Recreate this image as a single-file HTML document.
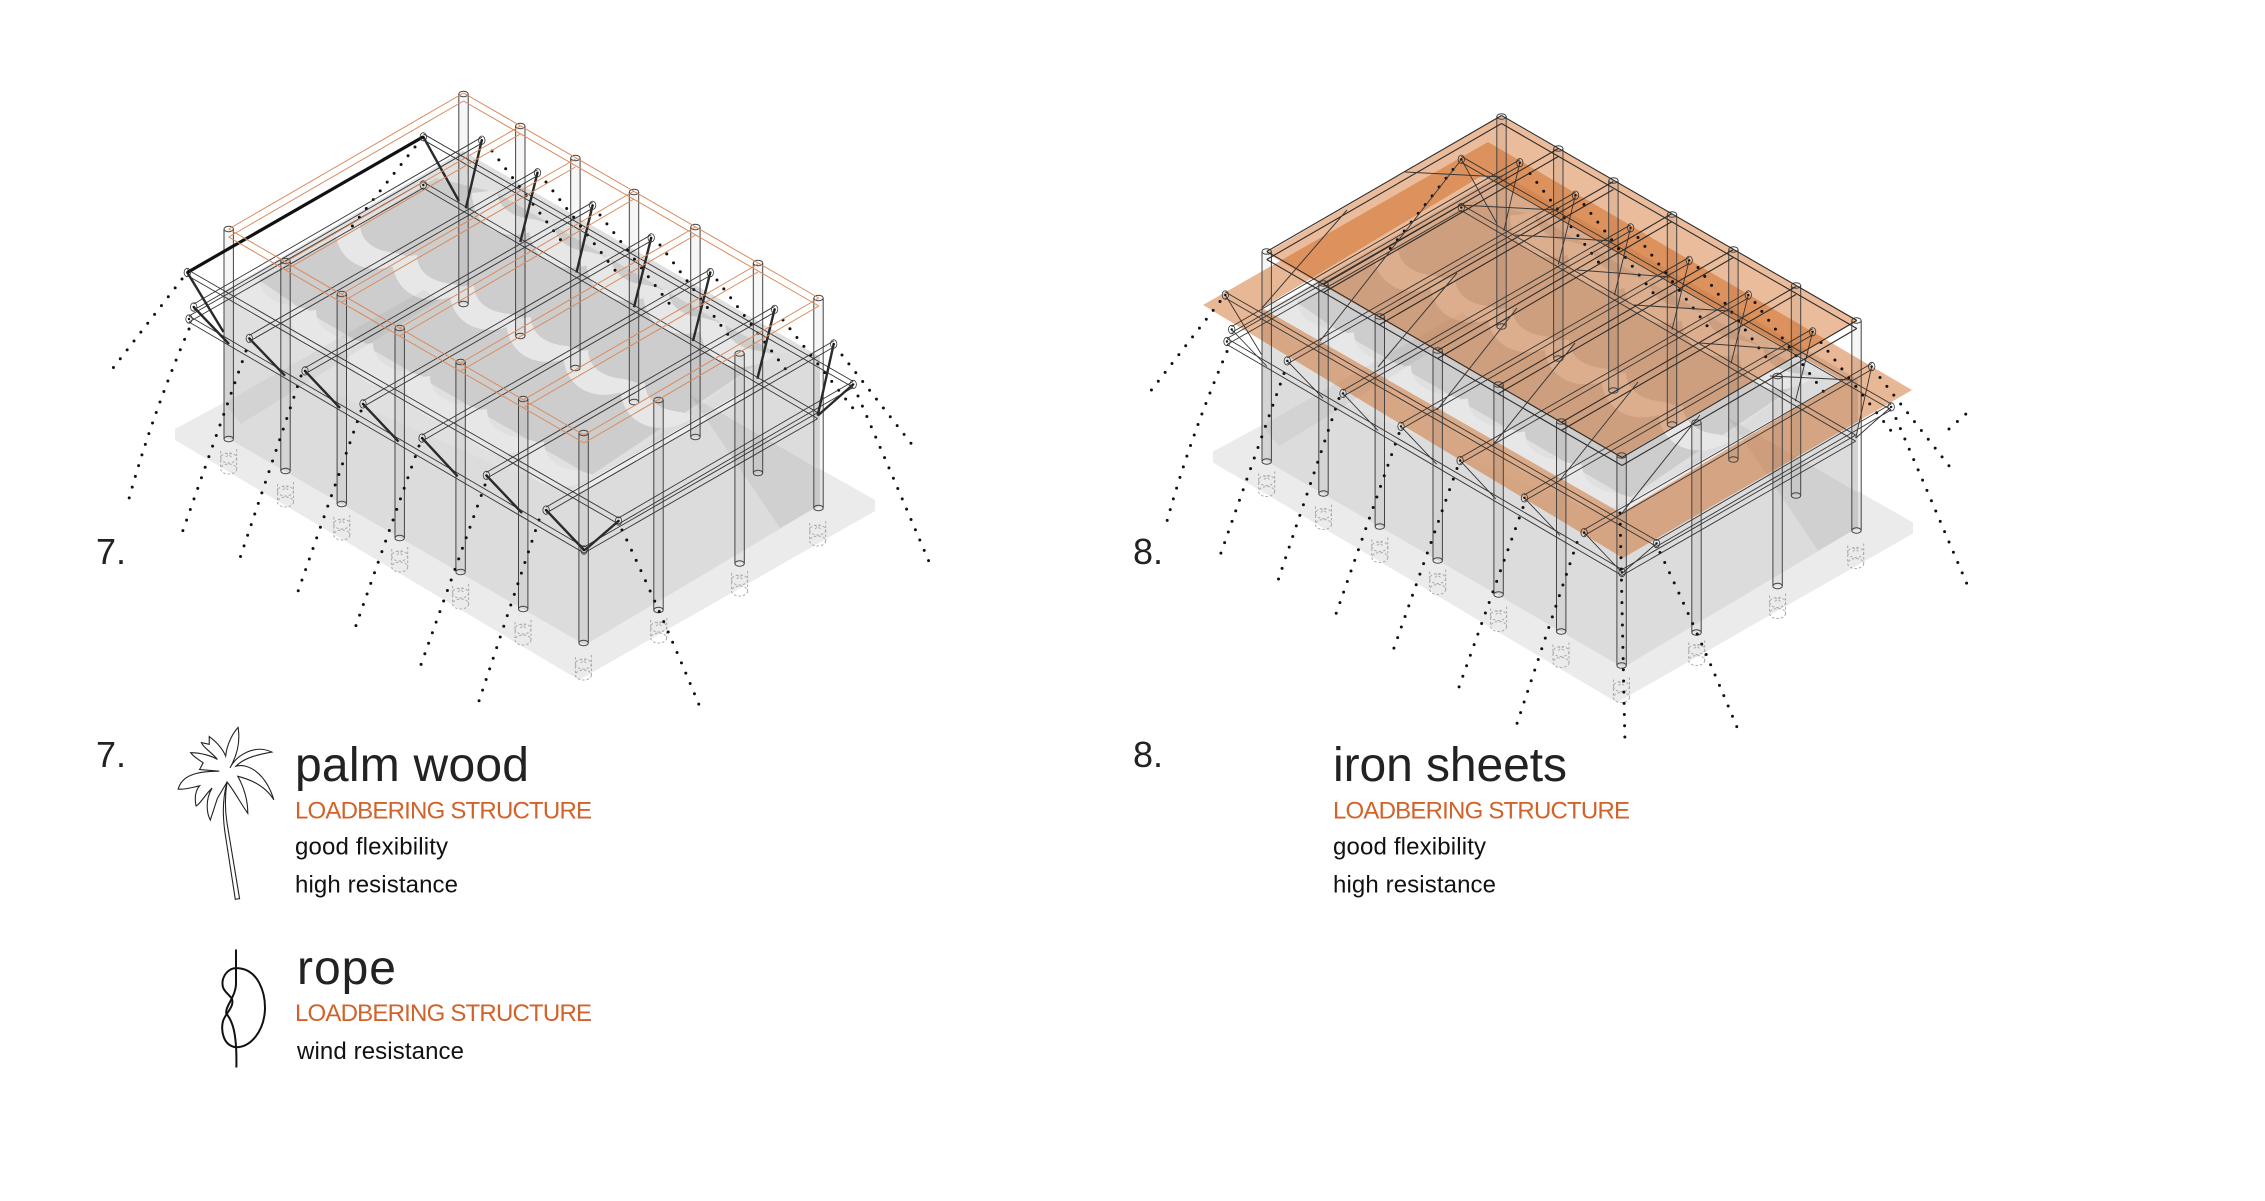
<!DOCTYPE html>
<html><head><meta charset="utf-8"><style>
html,body{margin:0;padding:0;background:#fff}
svg{display:block}
text{font-family:"Liberation Sans",sans-serif}
.o{fill:#d2622a;font-size:24px}
.b{fill:#222;font-size:48px}
.s{fill:#111;font-size:24px}
.n{fill:#222;font-size:36px}
</style></head><body>
<svg width="2265" height="1201" viewBox="0 0 2265 1201" xmlns="http://www.w3.org/2000/svg">
<defs>
<path id="cr" d="M0,-3 C0,12 12,24 36,26 L50,30 C22,52 -24,44 -25,0 Z" fill="#e7e7e7"/>
<g id="base">
<polygon points="175,429 175,440 579,680 875,511 875,500 470,270" fill="#ebebeb"/>
<polygon points="463,151 820,357 820,505 585,645 224,436 224,291" fill="#dcdcdc"/>
<polygon points="463,151 820,357 775,352 583,490 500,467 230,347 224,340 224,291" fill="#e0e0e0"/>
<polygon points="259,280 345,232 360,224 436,178 497,193 554,226 611,259 668,292 725,325 775,352 590,476 582,471 297,306" fill="#cdcdcd"/>
<use href="#cr" x="259" y="280"/><use href="#cr" x="316" y="313"/><use href="#cr" x="373" y="346"/><use href="#cr" x="430" y="379"/><use href="#cr" x="487" y="412"/><use href="#cr" x="544" y="445"/>
<use href="#cr" x="360" y="227"/><use href="#cr" x="417" y="258"/><use href="#cr" x="474" y="288"/><use href="#cr" x="531" y="320"/><use href="#cr" x="588" y="353"/><use href="#cr" x="645" y="386"/>
<use href="#cr" x="497" y="193"/><use href="#cr" x="554" y="226"/><use href="#cr" x="611" y="259"/><use href="#cr" x="668" y="292"/><use href="#cr" x="725" y="325"/>
<line x1="575" y1="492" x2="745" y2="394" stroke="#ececec" stroke-width="6"/>
<polygon points="224,403 424,290 440,300 241,424" fill="#000" opacity=".04"/>
<polygon points="690,395 820,470 820,505 780,528" fill="#000" opacity=".05"/>
</g>
<g id="c" fill="none" stroke="#444" stroke-width="1">
<rect x="-4.7" y="0" width="9.4" height="210" fill="#000" fill-opacity=".035" stroke="none"/>
<path d="M-4.7,0 V210 M4.7,0 V210"/>
<ellipse cx="0" cy="0" rx="4.7" ry="2.8"/><ellipse cx="0" cy="210" rx="4.7" ry="2.8"/>
</g>
<g id="cols">
<use href="#c" x="463.5" y="94"/><use href="#c" x="520.3" y="126"/><use href="#c" x="575.4" y="158"/><use href="#c" x="634" y="192"/><use href="#c" x="695.4" y="227"/><use href="#c" x="758" y="263"/><use href="#c" x="818.5" y="298"/>
<use href="#c" x="228.7" y="229"/><use href="#c" x="285.5" y="261"/><use href="#c" x="341.8" y="294"/><use href="#c" x="399.7" y="328"/><use href="#c" x="460.6" y="362"/><use href="#c" x="523.2" y="399"/><use href="#c" x="583.6" y="433"/>
<use href="#c" x="658.5" y="400"/><use href="#c" x="739.6" y="353.5"/>
</g>
<g id="f" fill="none" stroke="#aaa" stroke-width="1" stroke-dasharray="2.5 2">
<ellipse cx="0" cy="8" rx="8" ry="5"/><ellipse cx="0" cy="-3" rx="8" ry="5"/><path d="M-8,-10 V8 M8,-12 V8 M-3,-8 L3,-4 M3,-8 L-3,-4"/>
</g>
<g id="feet">
<use href="#f" x="228.7" y="461"/><use href="#f" x="285.5" y="494"/><use href="#f" x="341.8" y="527"/><use href="#f" x="399.7" y="559"/><use href="#f" x="460.6" y="596"/><use href="#f" x="523" y="632"/><use href="#f" x="583.4" y="667"/><use href="#f" x="658.7" y="630"/><use href="#f" x="739.6" y="583"/><use href="#f" x="817.7" y="533"/>
</g>
<path id="ropes" fill="none" stroke="#111" stroke-width="3" stroke-linecap="round" stroke-dasharray="0 11.2" d="M182,279 L110,372 M189,329 Q150,420 127,506 M246,351 L181,536 M301,376 L237,567 M361,411 L295,600 M419,446 L353,634 M485,485 L418,673 M539,520 L476,710 M622,530 Q660,610 702,712 M415,147 L350,229 M492,151 L563,243 M546,182 L618,274 M600,215 L672,307 M660,245 L732,340 M717,280 L790,375 M783,320 L856,412 M842,355 L917,451 M858,396 Q890,470 933,571"/>
<g id="roofc" fill="none">
<path d="M463.5,93 L818.8,298 M228.7,229 L584,435 M228.7,229 L463.5,93 M285.5,262 L520.3,126 M341.8,294 L575.4,159 M399.7,328 L634,191 M460.6,363 L695.4,227 M523.2,400 L758,264 M584,435 L818.8,298"/>
</g>
<g id="framec" fill="none">
<path d="M187.3,272.5 L618.5,521 M189,319 L584,550 M423.3,136.8 L853.2,384.4 M423.3,185 L817.7,415.6 M584,550 L817.7,415.6 M189,319 L423.3,185 M481.8,140.2 L193.7,307 M537.5,172.7 L249.3,338.4 M592.6,205.3 L305,370.9 M651.2,237.8 L363,403.9 M710.3,272.5 L422.1,438.1 M774.6,309.3 L486.4,475.4 M833.7,344 L546.1,510.1 M853.2,384.4 L618.5,521"/>
</g>
<g id="hk" fill="none" stroke="#333" stroke-width=".8"><ellipse rx="3.2" ry="4.2"/><circle r="1.2" fill="#111" stroke="none"/></g>
<g id="hooks">
<use href="#hk" x="187.3" y="272.5"/><use href="#hk" x="193.7" y="307"/><use href="#hk" x="189" y="319"/><use href="#hk" x="249.3" y="338.4"/><use href="#hk" x="305" y="370.9"/><use href="#hk" x="363" y="403.9"/><use href="#hk" x="422.1" y="438.1"/><use href="#hk" x="486.4" y="475.4"/><use href="#hk" x="546.1" y="510.1"/><use href="#hk" x="618.5" y="521"/>
<use href="#hk" x="423.3" y="136.8"/><use href="#hk" x="481.8" y="140.2"/><use href="#hk" x="537.5" y="172.7"/><use href="#hk" x="592.6" y="205.3"/><use href="#hk" x="651.2" y="237.8"/><use href="#hk" x="710.3" y="272.5"/><use href="#hk" x="774.6" y="309.3"/><use href="#hk" x="833.7" y="344"/><use href="#hk" x="853.2" y="384.4"/><use href="#hk" x="423.3" y="185"/><use href="#hk" x="584" y="550"/>
</g>
<path id="braces" fill="none" d="M423.3,136.8 L458.9,201 M481.8,140.2 L465.8,208.3 M537.5,172.7 L520.3,242 M592.6,205.3 L576.5,272.5 M651.2,237.8 L634,307.2 M710.3,272.5 L693,341 M774.6,309.3 L757.4,378.7 M833.7,344 L817.7,415.6 M853.2,384.4 L817.7,415.6 M193.7,307 L229,344 M187.3,272.5 L223.5,332 M249.3,338.4 L285,375.7 M305,370.9 L340,408 M363,403.9 L398.6,441.6 M422.1,438.1 L457.7,476.3 M486.4,475.4 L522,513 M546.1,510.1 L584,550 M618.5,521 L585,550"/>
</defs>

<!-- Figure 7 -->
<use href="#base"/>
<use href="#feet"/>
<use href="#cols"/>
<use href="#ropes"/>
<g stroke="#333" stroke-width=".9"><use href="#framec" y="-3"/><use href="#framec" y="3"/></g>
<use href="#braces" stroke="#2a2a2a" stroke-width="2.4"/>
<line x1="187.3" y1="272.5" x2="423.3" y2="136.8" stroke="#111" stroke-width="3.2"/>
<use href="#hooks"/>
<g stroke="#d98a5e" stroke-width="1"><use href="#roofc"/><use href="#roofc" y="8"/></g>

<!-- Figure 8 -->
<g transform="translate(1038,22.5)">
<use href="#base"/><use href="#feet"/>
</g>
<path fill="rgb(205,95,20)" fill-opacity=".45" fill-rule="evenodd" d="M1203,305 L1488,142 L1912,390 L1623,558 Z M1262,308 L1621,513 L1842,380 L1483,175 Z"/>
<polygon points="1500.6,116 1857.6,320 1621,457 1266.4,253" fill="rgb(205,95,20)" fill-opacity=".42"/>
<g transform="translate(1038,22.5)">
<use href="#cols"/><use href="#ropes"/>
<g stroke="#333" stroke-width=".9"><use href="#framec" y="-3"/><use href="#framec" y="3"/></g>
<use href="#braces" stroke="#333" stroke-width=".9"/>
<use href="#hooks"/>
<g stroke="#2e2a28" stroke-width="1.1"><use href="#roofc"/><use href="#roofc" y="8"/></g>
</g>
<g fill="none" stroke="#3a3a3a" stroke-width="1">
<path d="M1347,210 L1262,308 M1461,160 L1320,341 M1457,273 L1378,367 M1517,308 L1437,410 M1575,343 L1493,445 M1638,382 L1560,480 M1700,415 L1622,513"/>
<path d="M1405,172 L1502,177 M1458,205 L1557,210 M1515,235 L1612,241 M1577,270 L1670,277 M1634,305 L1730,311 M1700,343 L1793,350 M1770,376 L1852,380"/>
</g>
<path fill="none" stroke="#111" stroke-width="3" stroke-linecap="round" stroke-dasharray="0 11.2" d="M1620,513 L1625,745 M1949,429 L1967,413"/>

<!-- Labels -->
<text class="n" x="96" y="564" textLength="30" lengthAdjust="spacing">7.</text>
<text class="n" x="1133" y="564" textLength="30" lengthAdjust="spacing">8.</text>
<text class="n" x="96" y="767" textLength="30" lengthAdjust="spacing">7.</text>
<text class="n" x="1133" y="767" textLength="30" lengthAdjust="spacing">8.</text>

<text class="b" x="295" y="781" textLength="234" lengthAdjust="spacing">palm wood</text>
<text class="o" x="295" y="818.5" textLength="297" lengthAdjust="spacing">LOADBERING STRUCTURE</text>
<text class="s" x="295" y="854.5" textLength="153" lengthAdjust="spacing">good flexibility</text>
<text class="s" x="295" y="892.5" textLength="163" lengthAdjust="spacing">high resistance</text>

<text class="b" x="297" y="984" textLength="99" lengthAdjust="spacing">rope</text>
<text class="o" x="295" y="1021" textLength="297" lengthAdjust="spacing">LOADBERING STRUCTURE</text>
<text class="s" x="297" y="1059" textLength="167" lengthAdjust="spacing">wind resistance</text>

<text class="b" x="1333" y="781" textLength="234" lengthAdjust="spacing">iron sheets</text>
<text class="o" x="1333" y="818.5" textLength="297" lengthAdjust="spacing">LOADBERING STRUCTURE</text>
<text class="s" x="1333" y="854.5" textLength="153" lengthAdjust="spacing">good flexibility</text>
<text class="s" x="1333" y="892.5" textLength="163" lengthAdjust="spacing">high resistance</text>

<!-- Palm icon -->
<g transform="translate(80,719) scale(.357,.337)" fill="none" stroke="#222">
<path vector-effect="non-scaling-stroke" stroke-width="1.1" d="M412,187 C398,240 400,300 408,350 L435,535 L447,533 L412,310 C406,270 406,225 412,187 C430,210 450,250 470,280 C470,230 455,195 442,170 C480,180 520,200 543,240 C520,160 470,130 437,140 C460,115 500,105 537,98 C490,75 440,105 420,145 C445,100 448,60 443,25 C430,40 412,70 408,110 C400,90 385,70 362,52 L362,75 L340,70 C345,85 370,100 385,120 C370,110 340,100 310,100 C320,115 340,125 345,130 L335,150 L390,155 C320,155 285,170 275,208 C290,210 310,205 335,198 C325,210 320,230 325,258 C335,255 350,225 370,205 C350,240 355,280 365,300 L385,235 L412,187"/>
</g>
<!-- Rope icon -->
<g transform="translate(80,717) scale(.357,.337)" fill="none" stroke="#111">
<path vector-effect="non-scaling-stroke" stroke-width="2" d="M437,745 C500,745 520,820 518,870 C515,930 480,980 437,980 C400,975 395,930 400,905 C405,880 435,860 425,835 C410,815 395,810 400,780 C405,760 420,745 437,745"/>
<path vector-effect="non-scaling-stroke" stroke-width="2" d="M437,690 L437,790 C437,830 405,860 410,880 C425,900 440,930 438,1040"/>
</g>
</svg>
</body></html>
